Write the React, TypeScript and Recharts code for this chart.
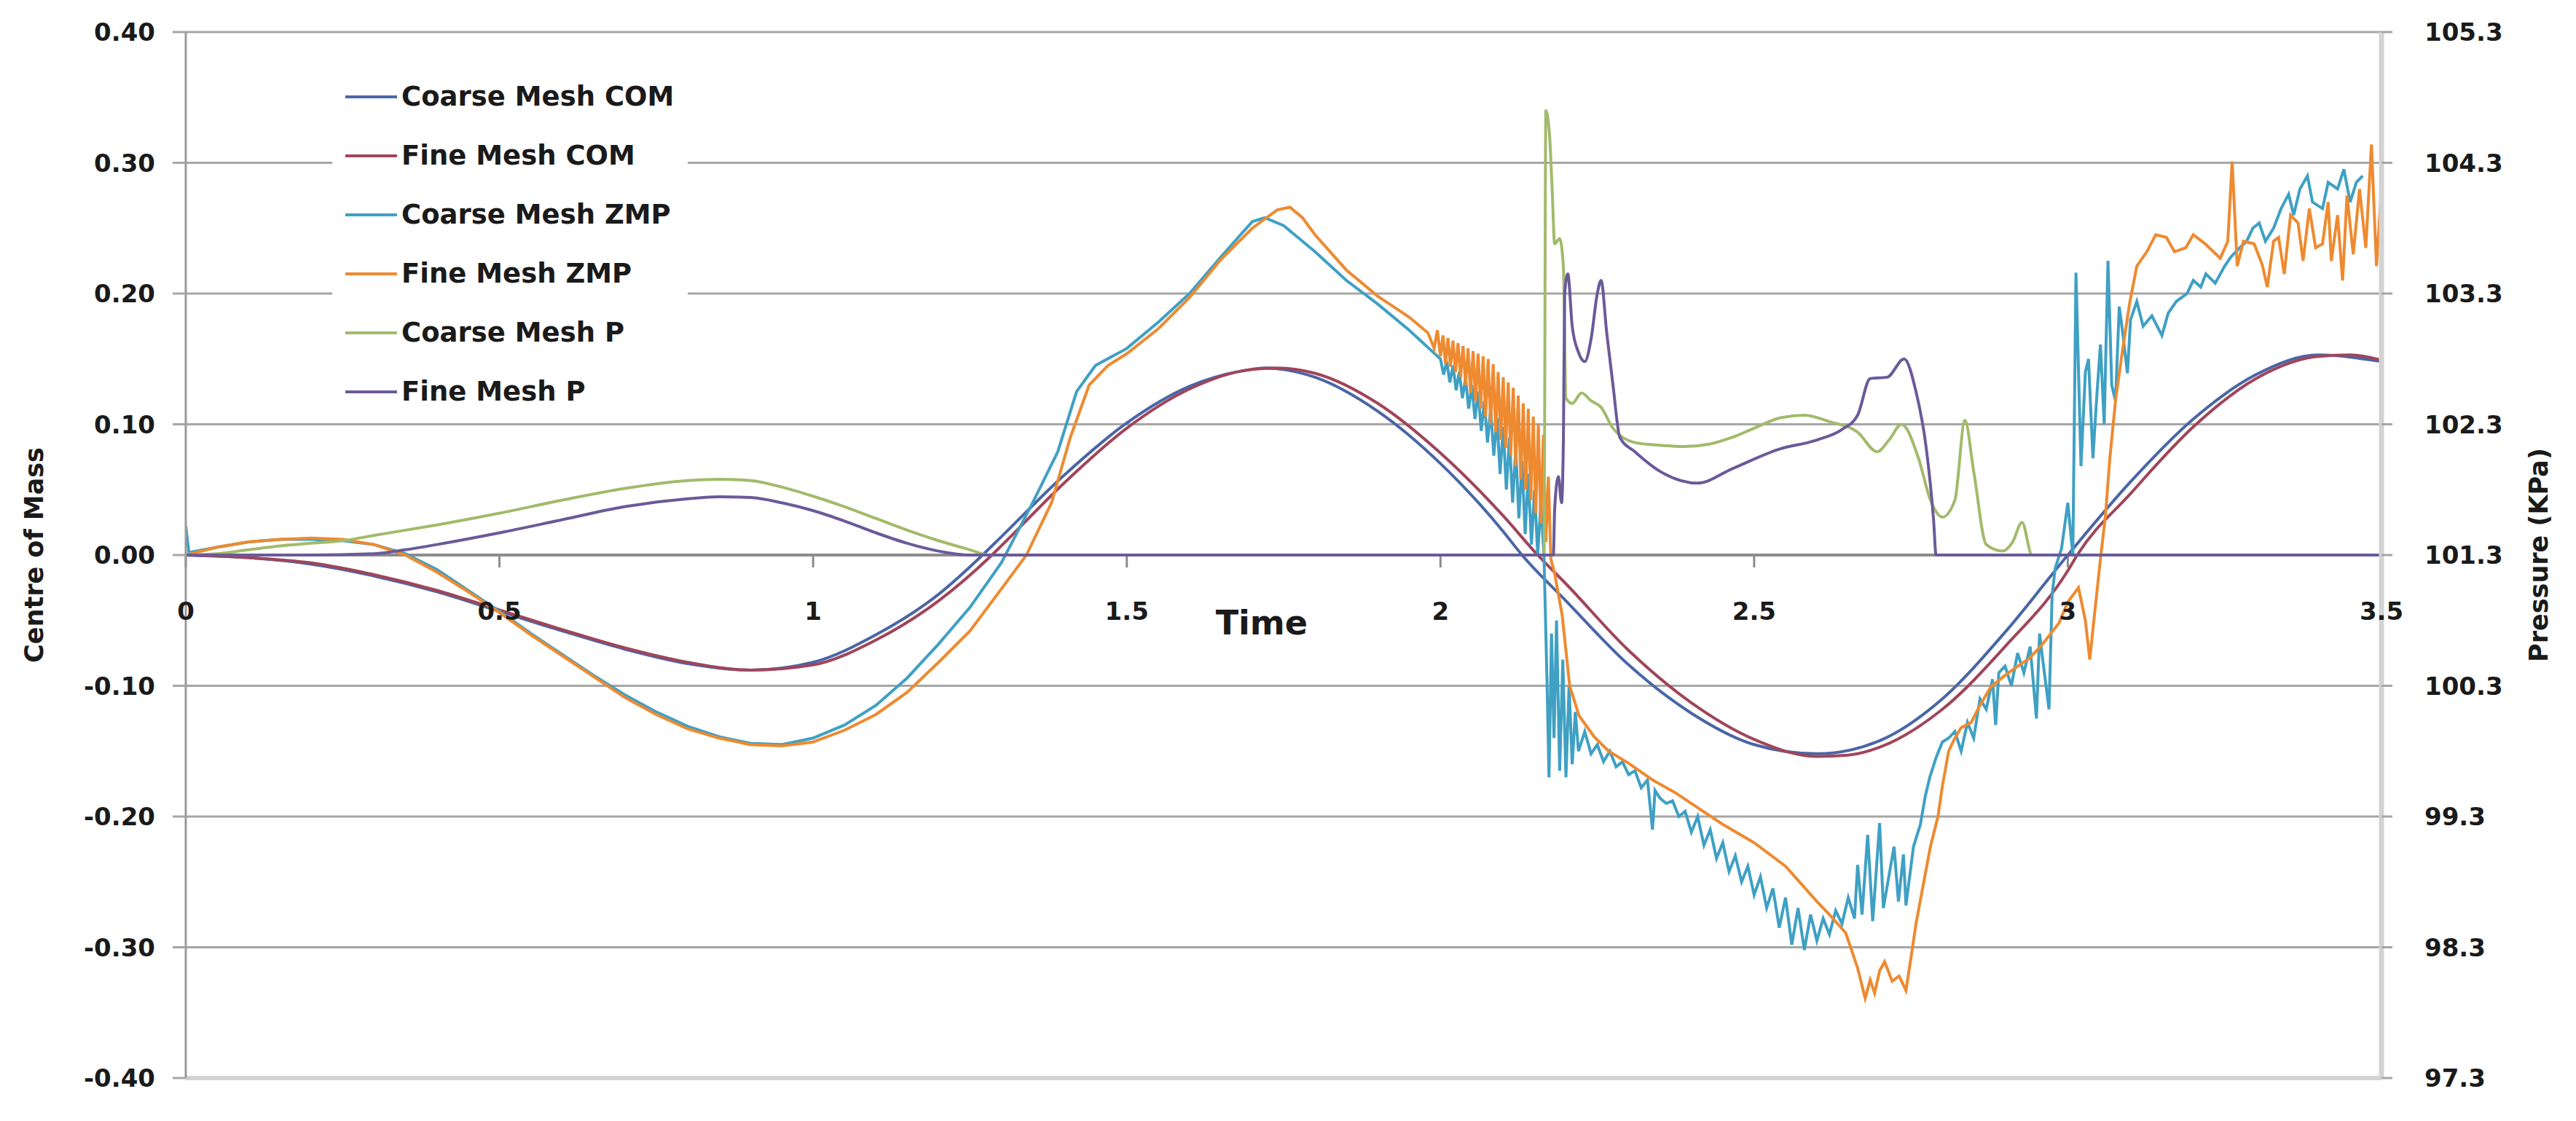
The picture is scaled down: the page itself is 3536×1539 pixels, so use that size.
import {
  CartesianGrid,
  Legend,
  Line,
  LineChart,
  ReferenceDot,
  ReferenceLine,
  XAxis,
  YAxis,
} from "recharts";

type Pt = [number, number];

const timeTicks = [0, 0.5, 1, 1.5, 2, 2.5, 3, 3.5];
const comTicks = [-0.4, -0.3, -0.2, -0.1, 0, 0.1, 0.2, 0.3, 0.4];
const pressureTicks = [97.3, 98.3, 99.3, 100.3, 101.3, 102.3, 103.3, 104.3, 105.3];
const timeTitleAt = 1.715;

const legendOrder = [
  "Coarse Mesh COM",
  "Fine Mesh COM",
  "Coarse Mesh ZMP",
  "Fine Mesh ZMP",
  "Coarse Mesh P",
  "Fine Mesh P",
];

// centre of mass (m)
const coarseCom: Pt[] = [
  [0, 0], [0.1, -0.002], [0.2, -0.007], [0.3, -0.016], [0.4, -0.028], [0.5, -0.043],
  [0.6, -0.058], [0.7, -0.072], [0.8, -0.083], [0.9, -0.088], [1.0, -0.082], [1.1, -0.061],
  [1.2, -0.03], [1.27, 0], [1.3, 0.014], [1.4, 0.061], [1.5, 0.101], [1.6, 0.129],
  [1.7, 0.142], [1.72, 0.143], [1.8, 0.136], [1.9, 0.11], [2.0, 0.07], [2.1, 0.018],
  [2.13, 0], [2.2, -0.035], [2.3, -0.084], [2.4, -0.121], [2.5, -0.145], [2.6, -0.152],
  [2.7, -0.142], [2.8, -0.11], [2.9, -0.059], [3.0, 0], [3.1, 0.056], [3.2, 0.104],
  [3.3, 0.138], [3.4, 0.153], [3.5, 0.148],
];

const fineCom: Pt[] = [
  [0, 0], [0.1, -0.002], [0.2, -0.006], [0.3, -0.015], [0.4, -0.027], [0.5, -0.042],
  [0.6, -0.057], [0.7, -0.071], [0.8, -0.082], [0.9, -0.088], [1.0, -0.084], [1.1, -0.065],
  [1.2, -0.035], [1.285, 0], [1.3, 0.007], [1.4, 0.055], [1.5, 0.097], [1.6, 0.127],
  [1.7, 0.142], [1.74, 0.143], [1.8, 0.139], [1.9, 0.116], [2.0, 0.078], [2.1, 0.03],
  [2.155, 0], [2.2, -0.022], [2.3, -0.073], [2.4, -0.113], [2.5, -0.141], [2.6, -0.154],
  [2.65, -0.153], [2.7, -0.147], [2.8, -0.118], [2.9, -0.07], [3.0, -0.012], [3.015, 0],
  [3.1, 0.047], [3.2, 0.098], [3.3, 0.135], [3.4, 0.152], [3.45, 0.153], [3.5, 0.149],
];

// zero moment point (m)
const coarseZmp: Pt[] = [
  [0, 0.022], [0.005, 0.002], [0.05, 0.006], [0.1, 0.01], [0.15, 0.012], [0.2, 0.012],
  [0.25, 0.011], [0.3, 0.008], [0.35, 0.001], [0.4, -0.011], [0.45, -0.027], [0.5, -0.043],
  [0.55, -0.06], [0.6, -0.076], [0.65, -0.092], [0.7, -0.107], [0.75, -0.12], [0.8, -0.131],
  [0.85, -0.139], [0.9, -0.144], [0.95, -0.145], [1.0, -0.14], [1.05, -0.13], [1.1, -0.115],
  [1.15, -0.094], [1.2, -0.068], [1.25, -0.04], [1.3, -0.006], [1.35, 0.04], [1.39, 0.079],
  [1.42, 0.125], [1.45, 0.145], [1.5, 0.158], [1.55, 0.178], [1.6, 0.2], [1.65, 0.228],
  [1.7, 0.255], [1.72, 0.258], [1.75, 0.252], [1.8, 0.232], [1.85, 0.21], [1.9, 0.192],
  [1.95, 0.172], [2.0, 0.15], [2.005, 0.138], [2.01, 0.148], [2.015, 0.132], [2.02, 0.145],
  [2.025, 0.126], [2.03, 0.14], [2.035, 0.12], [2.04, 0.135], [2.045, 0.112], [2.05, 0.13],
  [2.055, 0.104], [2.06, 0.125], [2.065, 0.095], [2.07, 0.118], [2.075, 0.086], [2.08, 0.112],
  [2.085, 0.076], [2.09, 0.105], [2.095, 0.062], [2.1, 0.098], [2.105, 0.05], [2.11, 0.09],
  [2.115, 0.04], [2.12, 0.082], [2.125, 0.028], [2.13, 0.072], [2.135, 0.016], [2.14, 0.062],
  [2.145, 0.008], [2.15, 0.05], [2.155, 0.0], [2.16, 0.04], [2.165, 0.0], [2.17, -0.1],
  [2.173, -0.17], [2.177, -0.06], [2.181, -0.14], [2.185, -0.05], [2.19, -0.165], [2.195, -0.08],
  [2.2, -0.17], [2.205, -0.1], [2.21, -0.16], [2.215, -0.12], [2.22, -0.15], [2.23, -0.135],
  [2.24, -0.152], [2.25, -0.145], [2.26, -0.158], [2.27, -0.15], [2.28, -0.162], [2.29, -0.158],
  [2.3, -0.168], [2.31, -0.165], [2.32, -0.178], [2.33, -0.172], [2.338, -0.21], [2.342, -0.18],
  [2.35, -0.186], [2.36, -0.19], [2.37, -0.188], [2.38, -0.2], [2.39, -0.196], [2.4, -0.212],
  [2.41, -0.2], [2.42, -0.222], [2.43, -0.21], [2.44, -0.232], [2.45, -0.22], [2.46, -0.242],
  [2.47, -0.23], [2.48, -0.25], [2.49, -0.238], [2.5, -0.26], [2.51, -0.246], [2.52, -0.27],
  [2.53, -0.255], [2.54, -0.285], [2.55, -0.262], [2.56, -0.298], [2.57, -0.27], [2.58, -0.302],
  [2.59, -0.275], [2.6, -0.295], [2.61, -0.278], [2.62, -0.29], [2.63, -0.272], [2.64, -0.282],
  [2.65, -0.262], [2.66, -0.278], [2.665, -0.237], [2.672, -0.275], [2.681, -0.214], [2.689, -0.28],
  [2.7, -0.205], [2.706, -0.27], [2.715, -0.245], [2.723, -0.223], [2.73, -0.265], [2.738, -0.229],
  [2.742, -0.268], [2.754, -0.223], [2.765, -0.206], [2.773, -0.184], [2.78, -0.17], [2.79, -0.155],
  [2.8, -0.143], [2.81, -0.14], [2.82, -0.135], [2.83, -0.15], [2.84, -0.128], [2.85, -0.14],
  [2.86, -0.11], [2.87, -0.118], [2.88, -0.095], [2.885, -0.13], [2.89, -0.09], [2.9, -0.085],
  [2.91, -0.1], [2.92, -0.075], [2.93, -0.09], [2.94, -0.07], [2.95, -0.125], [2.955, -0.06],
  [2.96, -0.08], [2.97, -0.118], [2.975, -0.03], [2.98, -0.01], [2.99, 0.005], [3.0, 0.04],
  [3.008, 0.0], [3.013, 0.216], [3.021, 0.068], [3.028, 0.14], [3.033, 0.15], [3.04, 0.074],
  [3.046, 0.12], [3.052, 0.161], [3.058, 0.1], [3.064, 0.225], [3.07, 0.13], [3.076, 0.118],
  [3.082, 0.19], [3.087, 0.172], [3.095, 0.139], [3.1, 0.18], [3.11, 0.194], [3.12, 0.175],
  [3.134, 0.183], [3.15, 0.168], [3.16, 0.185], [3.173, 0.194], [3.19, 0.2], [3.2, 0.21],
  [3.212, 0.205], [3.22, 0.215], [3.235, 0.208], [3.25, 0.221], [3.26, 0.228], [3.274, 0.235],
  [3.285, 0.24], [3.295, 0.25], [3.305, 0.254], [3.315, 0.24], [3.328, 0.25], [3.34, 0.265],
  [3.352, 0.276], [3.36, 0.26], [3.37, 0.28], [3.382, 0.29], [3.39, 0.27], [3.406, 0.265],
  [3.415, 0.285], [3.43, 0.28], [3.44, 0.295], [3.45, 0.27], [3.46, 0.285], [3.47, 0.29],
];

const fineZmp: Pt[] = [
  [0, 0], [0.05, 0.006], [0.1, 0.01], [0.15, 0.012], [0.2, 0.013], [0.25, 0.012],
  [0.3, 0.008], [0.35, 0.0], [0.4, -0.013], [0.45, -0.028], [0.5, -0.044], [0.55, -0.061],
  [0.6, -0.077], [0.65, -0.093], [0.7, -0.109], [0.75, -0.122], [0.8, -0.133], [0.85, -0.14],
  [0.9, -0.145], [0.95, -0.146], [1.0, -0.143], [1.05, -0.134], [1.1, -0.122], [1.15, -0.105],
  [1.2, -0.082], [1.25, -0.058], [1.3, -0.026], [1.34, 0.0], [1.38, 0.04], [1.41, 0.09],
  [1.44, 0.13], [1.47, 0.145], [1.5, 0.154], [1.55, 0.173], [1.6, 0.197], [1.65, 0.226],
  [1.7, 0.25], [1.74, 0.264], [1.76, 0.266], [1.78, 0.258], [1.8, 0.245], [1.85, 0.218],
  [1.9, 0.198], [1.95, 0.182], [1.98, 0.17], [1.99, 0.158], [1.995, 0.172], [2.0, 0.152],
  [2.004, 0.168], [2.008, 0.146], [2.012, 0.166], [2.016, 0.144], [2.02, 0.164], [2.024, 0.14],
  [2.028, 0.162], [2.032, 0.136], [2.036, 0.16], [2.04, 0.13], [2.044, 0.158], [2.048, 0.124],
  [2.052, 0.156], [2.056, 0.118], [2.06, 0.154], [2.064, 0.112], [2.068, 0.152], [2.072, 0.106],
  [2.076, 0.15], [2.08, 0.1], [2.084, 0.146], [2.088, 0.094], [2.092, 0.14], [2.096, 0.088],
  [2.1, 0.136], [2.104, 0.082], [2.108, 0.132], [2.112, 0.076], [2.116, 0.128], [2.12, 0.068],
  [2.124, 0.122], [2.128, 0.058], [2.132, 0.116], [2.136, 0.05], [2.14, 0.112], [2.144, 0.042],
  [2.148, 0.106], [2.152, 0.032], [2.156, 0.1], [2.16, 0.024], [2.164, 0.092], [2.168, 0.01],
  [2.172, 0.06], [2.176, -0.003], [2.182, -0.014], [2.194, -0.046], [2.206, -0.1], [2.221, -0.123],
  [2.245, -0.139], [2.268, -0.15], [2.299, -0.159], [2.338, -0.172], [2.375, -0.182], [2.4, -0.19],
  [2.45, -0.206], [2.5, -0.22], [2.55, -0.238], [2.6, -0.265], [2.62, -0.275], [2.646, -0.289],
  [2.665, -0.316], [2.677, -0.339], [2.685, -0.325], [2.692, -0.335], [2.7, -0.318], [2.708, -0.311],
  [2.72, -0.326], [2.731, -0.322], [2.742, -0.333], [2.75, -0.308], [2.758, -0.282], [2.77, -0.251],
  [2.781, -0.223], [2.793, -0.2], [2.8, -0.177], [2.81, -0.15], [2.82, -0.14], [2.83, -0.132],
  [2.846, -0.128], [2.86, -0.115], [2.877, -0.101], [2.9, -0.092], [2.92, -0.085], [2.939, -0.079],
  [2.96, -0.068], [2.986, -0.052], [3.0, -0.036], [3.017, -0.025], [3.028, -0.05], [3.035, -0.08],
  [3.04, -0.057], [3.052, -0.003], [3.06, 0.03], [3.067, 0.074], [3.076, 0.118], [3.087, 0.156],
  [3.099, 0.194], [3.11, 0.221], [3.126, 0.232], [3.14, 0.245], [3.157, 0.243], [3.17, 0.232],
  [3.188, 0.235], [3.2, 0.245], [3.219, 0.238], [3.243, 0.227], [3.255, 0.24], [3.262, 0.301],
  [3.27, 0.221], [3.28, 0.24], [3.297, 0.238], [3.31, 0.222], [3.318, 0.205], [3.328, 0.24],
  [3.336, 0.243], [3.345, 0.215], [3.355, 0.26], [3.367, 0.254], [3.375, 0.225], [3.385, 0.265],
  [3.395, 0.235], [3.406, 0.238], [3.415, 0.27], [3.42, 0.225], [3.43, 0.26], [3.438, 0.21],
  [3.445, 0.275], [3.455, 0.23], [3.465, 0.28], [3.475, 0.235], [3.484, 0.314], [3.492, 0.221],
  [3.5, 0.28],
];

// pressure (kPa)
const coarseP: Pt[] = [
  [0, 101.3], [0.05, 101.31], [0.1, 101.34], [0.15, 101.37], [0.2, 101.39], [0.25, 101.41],
  [0.3, 101.45], [0.35, 101.49], [0.4, 101.53], [0.5, 101.62], [0.6, 101.72], [0.7, 101.81],
  [0.8, 101.87], [0.85, 101.88], [0.9, 101.87], [0.95, 101.82], [1.0, 101.75], [1.05, 101.67],
  [1.1, 101.58], [1.15, 101.49], [1.2, 101.41], [1.25, 101.34], [1.28, 101.3], [2.165, 101.3],
  [2.168, 104.7], [2.174, 104.5], [2.178, 104.1], [2.182, 103.68], [2.19, 103.72], [2.196, 103.5],
  [2.2, 102.5], [2.21, 102.46], [2.225, 102.54], [2.24, 102.48], [2.256, 102.43], [2.275, 102.27],
  [2.31, 102.16], [2.35, 102.14], [2.388, 102.13], [2.43, 102.15], [2.465, 102.2], [2.5, 102.27],
  [2.542, 102.35], [2.58, 102.37], [2.62, 102.32], [2.665, 102.24], [2.696, 102.09], [2.715, 102.18],
  [2.735, 102.3], [2.762, 102.04], [2.781, 101.72], [2.8, 101.59], [2.82, 101.72], [2.836, 102.33],
  [2.85, 101.94], [2.87, 101.38], [2.896, 101.33], [2.912, 101.4], [2.927, 101.55], [2.943, 101.3],
  [3.5, 101.3],
];

const fineP: Pt[] = [
  [0, 101.3], [0.1, 101.3], [0.2, 101.3], [0.3, 101.31], [0.35, 101.34], [0.4, 101.38],
  [0.5, 101.47], [0.6, 101.57], [0.7, 101.67], [0.8, 101.73], [0.85, 101.745], [0.9, 101.74],
  [0.95, 101.7], [1.0, 101.64], [1.05, 101.56], [1.1, 101.47], [1.15, 101.39], [1.2, 101.33],
  [1.25, 101.3], [2.18, 101.3], [2.182, 101.65], [2.188, 101.9], [2.193, 101.7], [2.196, 102.2],
  [2.198, 103.3], [2.203, 103.45], [2.21, 103.05], [2.22, 102.85], [2.23, 102.78], [2.24, 102.95],
  [2.25, 103.3], [2.256, 103.4], [2.265, 103.0], [2.275, 102.6], [2.286, 102.2], [2.31, 102.09],
  [2.35, 101.94], [2.41, 101.85], [2.465, 101.96], [2.54, 102.11], [2.6, 102.18], [2.64, 102.26],
  [2.665, 102.37], [2.685, 102.65], [2.712, 102.66], [2.739, 102.8], [2.758, 102.55], [2.774, 102.13],
  [2.786, 101.57], [2.79, 101.3], [3.5, 101.3],
];

const FONT = "'DejaVu Sans', Verdana, sans-serif";
const INK = "#1a1a1a";
const GRID = "#a6a6a6";

const series = [
  { name: "Coarse Mesh COM", points: coarseCom, color: "#4a66a6", axis: "left", curve: "monotone" },
  { name: "Fine Mesh COM", points: fineCom, color: "#a0455a", axis: "left", curve: "monotone" },
  { name: "Coarse Mesh ZMP", points: coarseZmp, color: "#3fa0c4", axis: "left", curve: "linear" },
  { name: "Fine Mesh ZMP", points: fineZmp, color: "#ee8a30", axis: "left", curve: "linear" },
  { name: "Coarse Mesh P", points: coarseP, color: "#a3ba6b", axis: "right", curve: "monotone" },
  { name: "Fine Mesh P", points: fineP, color: "#6a5a99", axis: "right", curve: "monotone" },
] as const;

const toRows = (pts: readonly Pt[]) => pts.map(([t, v]) => ({ t, v }));

const tickFont = { fill: INK, fontSize: 34, fontWeight: "bold", fontFamily: FONT };

function SideTitle(props: any) {
  const { viewBox, title, shift } = props;
  const box = viewBox ?? { x: 0, y: 44, width: 255, height: 1436 };
  const cx = box.x + shift;
  const cy = box.y + box.height / 2;
  return (
    <text
      x={cx}
      y={cy}
      transform={`rotate(-90 ${cx} ${cy})`}
      textAnchor="middle"
      dominantBaseline="central"
      fill={INK}
      fontSize={35}
      fontWeight="bold"
      fontFamily={FONT}
    >
      {title}
    </text>
  );
}

function LegendBox(props: any) {
  const items = [...(props.payload ?? [])].sort(
    (a, b) => legendOrder.indexOf(a.value) - legendOrder.indexOf(b.value),
  );
  return (
    <div style={{ background: "#fff", width: 488, height: 486, boxSizing: "border-box", paddingLeft: 18 }}>
      {items.map((item) => (
        <div key={item.value} style={{ display: "flex", alignItems: "center", height: 81 }}>
          <svg width={71} height={10}>
            <line x1={0} y1={5} x2={71} y2={5} stroke={item.color} strokeWidth={4} />
          </svg>
          <span
            style={{
              marginLeft: 6,
              fontFamily: FONT,
              fontWeight: "bold",
              fontSize: 37,
              color: INK,
              lineHeight: 1,
              whiteSpace: "nowrap",
            }}
          >
            {item.value}
          </span>
        </div>
      ))}
    </div>
  );
}

export default function App() {
  return (
    <div style={{ position: "absolute", left: 0, top: 0 }}>
      <LineChart width={3536} height={1539} margin={{ top: 44, right: 0, bottom: 59, left: 0 }}>
        <CartesianGrid yAxisId="left" vertical={false} stroke={GRID} strokeWidth={3} />
        <XAxis type="number" dataKey="t" domain={[0, 3.5]} ticks={timeTicks} hide allowDataOverflow />
        <YAxis
          yAxisId="left"
          width={255}
          domain={[-0.4, 0.4]}
          ticks={comTicks}
          interval={0}
          allowDataOverflow
          tickFormatter={(v: number) => v.toFixed(2)}
          tick={tickFont}
          tickSize={18}
          tickMargin={24}
          tickLine={{ stroke: GRID, strokeWidth: 3 }}
          axisLine={{ stroke: "#9a9a9a", strokeWidth: 3 }}
          label={<SideTitle title="Centre of Mass" shift={47} />}
        />
        <YAxis
          yAxisId="right"
          orientation="right"
          width={267}
          domain={[97.3, 105.3]}
          ticks={pressureTicks}
          interval={0}
          allowDataOverflow
          tickFormatter={(v: number) => v.toFixed(1)}
          tick={tickFont}
          tickSize={15}
          tickMargin={44}
          tickLine={{ stroke: GRID, strokeWidth: 3 }}
          axisLine={{ stroke: "#d3d3d3", strokeWidth: 7 }}
          label={<SideTitle title="Pressure (KPa)" shift={216} />}
        />
        <ReferenceLine yAxisId="left" y={-0.4} stroke="#d3d3d3" strokeWidth={6} />
        <ReferenceLine yAxisId="left" y={0} stroke="#8c8c8c" strokeWidth={4} />
        {timeTicks.map((t) => (
          <ReferenceLine
            key={t}
            yAxisId="left"
            segment={[{ x: t, y: 0 }, { x: t, y: -0.0095 }]}
            stroke="#8c8c8c"
            strokeWidth={3}
            label={{ value: String(t), position: "bottom", offset: 48, ...tickFont }}
          />
        ))}
        <ReferenceDot
          yAxisId="left"
          x={timeTitleAt}
          y={0}
          r={0}
          fill="none"
          stroke="none"
          label={{ value: "Time", position: "bottom", offset: 76, fill: INK, fontSize: 46, fontWeight: "bold", fontFamily: FONT }}
        />
        <Legend
          layout="vertical"
          align="center"
          verticalAlign="middle"
          content={<LegendBox />}
          wrapperStyle={{ left: 456, top: 92, width: 488, height: 486 }}
        />
        {series.map((s) => (
          <Line
            key={s.name}
            name={s.name}
            data={toRows(s.points)}
            dataKey="v"
            yAxisId={s.axis}
            type={s.curve}
            stroke={s.color}
            strokeWidth={4}
            dot={false}
            activeDot={false}
            isAnimationActive={false}
          />
        ))}
      </LineChart>
    </div>
  );
}
